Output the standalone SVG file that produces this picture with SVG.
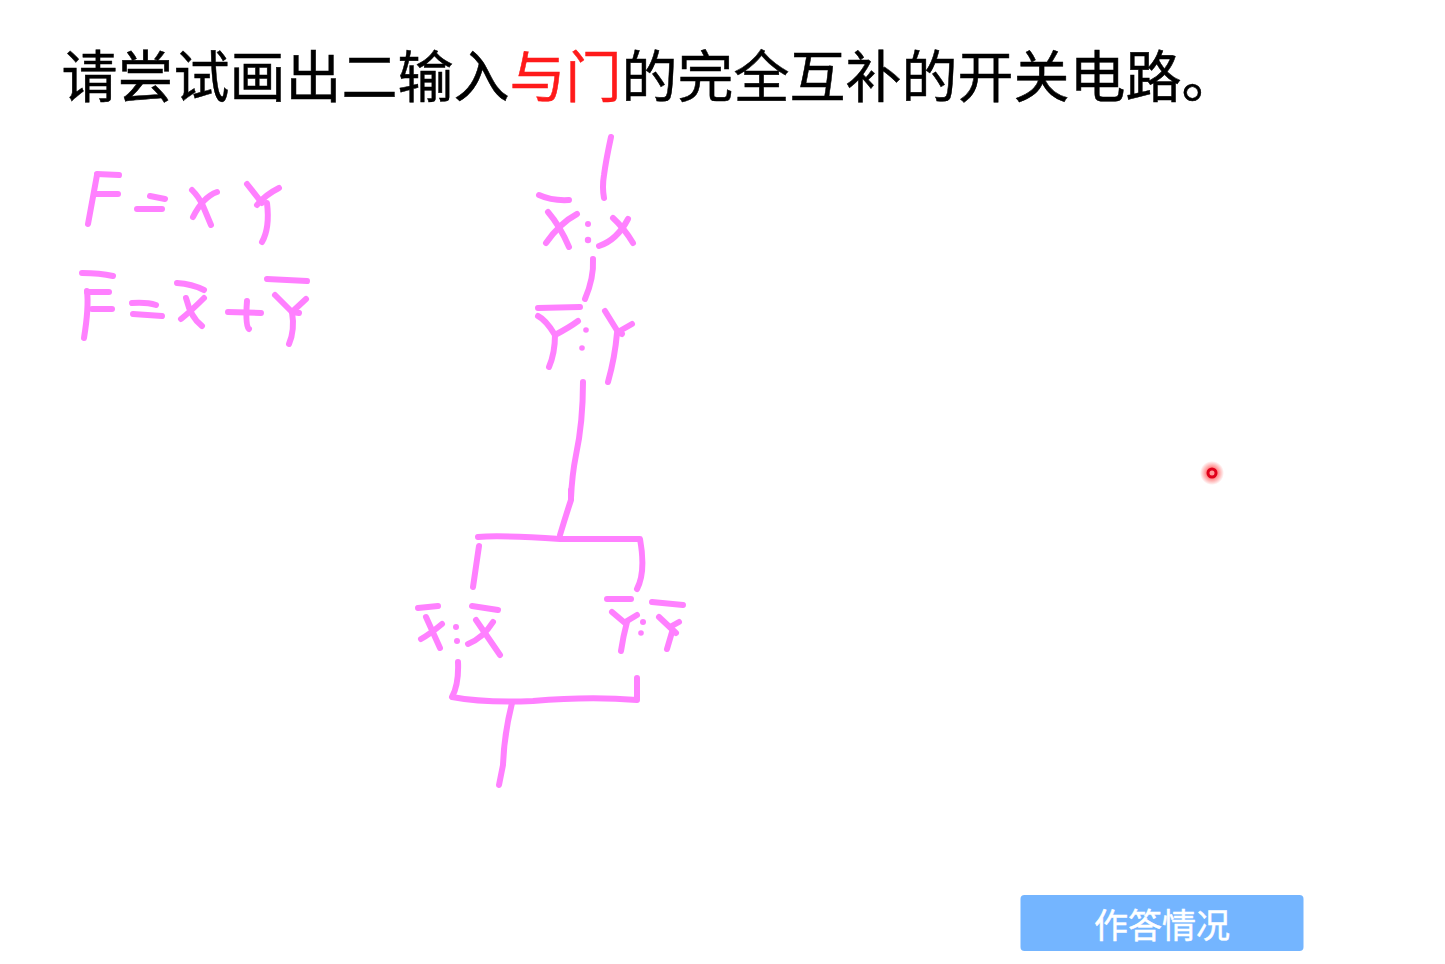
<svg xmlns="http://www.w3.org/2000/svg" width="1445" height="964" viewBox="0 0 1445 964">
<defs>
<style>
.title{font-family:"Noto Sans CJK SC","Noto Sans",sans-serif;font-size:56px;fill:#000;stroke:#000;stroke-width:.5px}
.title .red{fill:#ff1a1a;stroke:#ff1a1a}
.btn{font-family:"Noto Sans CJK SC","Noto Sans",sans-serif;font-size:34px;fill:#fff;stroke:#fff;stroke-width:.5px;text-anchor:middle}
.ink path{fill:none;stroke:#ff80ff;stroke-width:6;stroke-linecap:round;stroke-linejoin:round}
.ink circle{fill:#ff80ff}
</style>
<radialGradient id="glow"><stop offset="0.3" stop-color="#ff3030" stop-opacity="0.75"/><stop offset="1" stop-color="#ff3030" stop-opacity="0"/></radialGradient>
</defs>
<rect width="1445" height="964" fill="#fff"/>
<text id="title" class="title" x="61.500" y="97">请尝试画出二输入<tspan class="red">与门</tspan>的完全互补的开关电路。</text>
<g id="formula-1" class="ink">
<path d="M97,174L119,175"/><path d="M97,175L88,224"/><path d="M95,194L118,194"/>
<path d="M150,196L165,199"/><path d="M137,209L162,209"/>
<path d="M192,190Q199,197 203,206L211,225"/><path d="M217,192Q203,197 193,217"/>
<path d="M247,184L262,203"/><path d="M279,188Q265,195 257,205"/><path d="M267,203Q270,228 262,242"/>
</g>
<g id="formula-2" class="ink">
<path d="M82,273Q100,273 113,276"/><path d="M87,291Q89,307 84,338"/><path d="M87,292L109,292"/><path d="M92,309L112,309"/>
<path d="M132,303Q147,302 156,305"/><path d="M133,314L162,316"/>
<path d="M177,283Q192,284 204,290"/><path d="M186,298Q191,318 202,326"/><path d="M204,298Q191,311 181,319"/>
<path d="M228,312L261,313"/><path d="M247,301Q245,327 249,329"/>
<path d="M267,279L307,281"/><path d="M275,295L292,312L299,313"/><path d="M306,299L292,312"/><path d="M292,312Q295,330 289,344"/>
</g>
<g id="connectors" class="ink">
<path d="M611,137Q606,160 604,175Q602,187 604,198"/>
<path d="M593,259Q594,278 585,299"/>
<path d="M583,382Q583,422 576,455Q572,475 571,498"/>
<path d="M571,490L571,500Q566,515 560,535"/>
<path d="M478,537Q500,535 560,539L640,539Q646,572 637,589"/>
<path d="M479,546L473,587"/>
<path d="M458,662Q459,684 452,697Q483,703 533,701Q590,696 637,700L637,678"/>
<path d="M512,703Q504,735 503,765L499,785"/>
</g>
<g id="switch-x" class="ink">
<path d="M539,195Q552,201 569,200"/>
<path d="M548,212Q560,226 569,247"/><path d="M577,214Q560,223 546,243"/>
<circle cx="588" cy="224" r="3"/><circle cx="588" cy="240" r="3.200"/>
<path d="M613,218Q624,228 633,243"/><path d="M628,219Q617,240 599,246"/>
</g>
<g id="switch-y" class="ink">
<path d="M538,308L580,307"/>
<path d="M538,316Q546,320 555,335"/><path d="M578,321Q570,327 555,335"/><path d="M555,335Q555,353 549,367"/>
<circle cx="586" cy="330" r="2.800"/><circle cx="582" cy="348" r="2.800"/>
<path d="M605,311L618,332L622,334"/><path d="M632,324L618,332"/><path d="M617,333Q615,357 608,382"/>
</g>
<g id="switch-x-parallel" class="ink">
<path d="M418,608L438,606"/><path d="M472,606L498,610"/>
<path d="M426,617L440,648"/><path d="M442,624Q430,634 421,639"/>
<circle cx="456" cy="627" r="3"/><circle cx="457" cy="641" r="3"/>
<path d="M476,620L500,655"/><path d="M493,622Q483,638 468,644"/>
</g>
<g id="switch-y-parallel" class="ink">
<path d="M607,599L631,599"/><path d="M652,602L683,605"/>
<path d="M612,612L625,623"/><path d="M637,615L627,621"/><path d="M627,622Q623,637 621,651"/>
<circle cx="643" cy="622" r="3"/><circle cx="641" cy="633" r="2.800"/>
<path d="M659,617L676,633"/><path d="M679,622L670,627"/><path d="M672,632L667,649"/>
</g>
<g id="pointer">
<circle cx="1212" cy="473" r="12" fill="url(#glow)"/>
<circle cx="1212" cy="473" r="4" fill="#ff9a9a" stroke="#e0001a" stroke-width="3"/>
</g>
<g id="answer-button">
<rect x="1020.500" y="895" width="283" height="56" rx="4" fill="#74b5ff"/>
<text class="btn" x="1162" y="937.500">作答情况</text>
</g>
</svg>
